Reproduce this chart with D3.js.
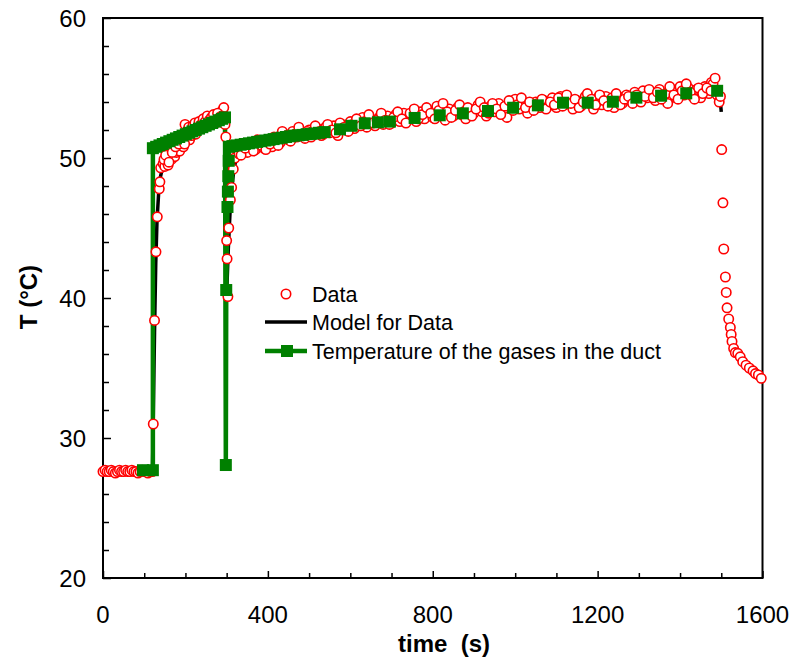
<!doctype html>
<html>
<head>
<meta charset="utf-8">
<title>T vs time</title>
<script src="https://d3js.org/d3.v7.min.js"></script>
<style>
  body { margin: 0; background: #fff; }
  svg text { font-family: Arial, "Liberation Sans", sans-serif; fill: #000; }
  .tick-label { font-size: 24px; }
  .axis-title { font-size: 24px; font-weight: bold; }
  .legend-text { font-size: 21.5px; }
</style>
</head>
<body>
<div id="chart"></div>
<script>

// measured data points [time (s), T (°C)]
const dataPts = [
  [0,27.6],[5,27.7],[10,27.6],[15,27.6],[20,27.7],[25,27.6],[30,27.5],[35,27.6],[40,27.7],[45,27.6],
  [50,27.6],[55,27.7],[60,27.6],[65,27.6],[70,27.7],[75,27.6],[80,27.6],[85,27.5],[90,27.6],[95,27.7],
  [100,27.6],[105,27.6],[109,27.5],[115,27.6],[120,27.6],
  [122,31.0],[125,38.4],[128.5,43.3],[131.7,45.8],[136.5,47.8],[138,48.3],[140,49.3],[146,49.6],
  [150,49.4],[154,49.8],[158,49.5],[162,50.0],[166,49.9],[170,50.3],[174,50.1],[178,50.4],[182,50.6],
  [186,50.5],[190,50.9],[195,50.8],[199,52.4],[205,51.5],[210,51.3],[215,51.6],[220,51.9],[225,51.7],
  [230,52.0],[235,52.2],[240,52.1],[245,52.4],[250,52.3],[255,52.6],[260,52.5],[265,52.8],[270,52.7],
  [275,53.0],[280,52.9],[285,52.6],[290,53.4],[293,53.6],[296,52.4],[298,51.5],
  [148,49.9],[152,50.2],[160,49.7],[168,50.4],[176,50.8],[184,51.0],[192,51.3],[198,51.0],[203,51.9],
  [208,52.2],[213,51.8],[218,52.3],[223,52.5],[228,52.2],[233,52.6],[238,52.4],[243,52.8],[248,52.6],
  [253,53.0],[258,52.7],[263,52.9],[268,53.1],[273,52.5],[278,53.2],[283,52.9],[288,53.0],
  [300,44.1],[301,42.8],[303,40.1],[305,45.0],[309,47.0],[312,47.9],[316,49.2],[320,50.0],[325,50.6],[330,50.3],
  [340,50.9],[350,50.4],[360,51.0],[370,50.6],[380,51.1],[390,50.7],[400,51.2],[410,50.8],[420,51.4],[430,51.1],
  [440,51.7],[450,51.3],[460,51.9],[470,51.5],[480,51.8],[490,51.4],[500,52.0],[510,51.7],[520,52.1],[530,51.6],
  [540,52.2],[550,51.8],[560,52.3],[570,51.6],[580,52.4],[590,52.0],[600,52.6],[610,52.1],[620,52.5],[630,52.9],
  [640,52.2],[650,52.8],[660,52.3],[670,52.9],[680,52.4],[690,53.0],[700,52.5],[710,53.1],[720,52.6],[730,53.2],
  [740,52.7],[750,53.0],[760,52.6],[770,53.3],[780,52.8],[790,53.4],[800,52.9],[810,53.7],[820,53.2],[830,52.7],
  [840,53.5],[850,53.0],[860,53.6],[870,53.1],[880,52.8],[890,53.5],[900,53.2],[910,53.8],[920,53.3],[930,53.0],
  [940,53.7],[950,53.3],[960,53.9],[970,53.4],[980,52.9],[990,53.8],[1000,54.2],[1010,53.5],[1020,53.9],[1030,53.2],
  [1040,53.8],[1050,54.0],[1060,53.6],[1070,54.1],[1080,53.7],[1090,54.3],[1100,53.6],[1110,54.4],[1120,53.8],[1130,54.2],
  [1140,53.5],[1150,54.1],[1160,53.7],[1170,54.4],[1180,53.9],[1190,53.5],[1200,54.3],[1210,53.8],[1220,54.4],[1230,54.0],
  [1240,53.6],[1250,54.4],[1260,53.9],[1270,54.5],[1280,54.1],[1290,54.7],[1300,54.2],[1310,54.8],[1320,54.3],[1330,54.6],
  [1340,54.1],[1350,54.9],[1360,54.4],[1370,53.9],[1380,54.8],[1390,54.3],[1400,55.1],[1410,54.5],[1420,55.0],[1430,54.4],
  [1440,54.9],[1450,54.3],[1460,55.1],[1470,54.6],[1476,55.4],[1480,55.3],[1485,55.7],[1490,54.5],[1495,54.0],[1498,54.4],
  [335,50.2],[345,50.7],[355,51.1],[365,50.5],[375,51.3],[385,50.9],[395,50.6],[405,51.0],[415,51.5],[425,50.9],
  [435,51.9],[445,51.6],[455,51.2],[465,51.7],[475,52.2],[485,51.6],[495,51.9],[505,51.5],[515,52.3],[525,51.9],
  [535,51.7],[545,52.4],[555,52.0],[565,51.8],[575,52.5],[585,52.2],[595,51.9],[605,52.4],[615,52.8],[625,52.3],
  [635,52.6],[645,53.1],[655,52.5],[665,52.7],[675,53.2],[685,52.7],[695,52.4],[705,52.9],[715,53.3],[725,52.8],
  [735,52.5],[745,53.2],[755,53.5],[765,52.8],[775,53.1],[785,53.6],[795,53.2],[805,52.8],[815,53.4],[825,53.9],
  [835,53.3],[845,52.9],[855,53.4],[865,53.8],[875,53.3],[885,53.6],[895,53.0],[905,53.5],[915,54.0],[925,53.6],
  [935,53.2],[945,53.9],[955,53.5],[965,53.1],[975,53.7],[985,54.1],[995,53.4],[1005,53.8],[1015,54.3],[1025,53.6],
  [1035,54.0],[1045,53.4],[1055,53.9],[1065,54.2],[1075,53.5],[1085,54.0],[1095,53.8],[1105,54.3],[1115,53.7],[1125,54.5],
  [1135,53.9],[1145,54.2],[1155,53.6],[1165,54.0],[1175,54.6],[1185,54.2],[1195,53.8],[1205,54.5],[1215,54.1],[1225,53.7],
  [1235,54.3],[1245,54.6],[1255,53.8],[1265,54.2],[1275,54.4],[1285,53.9],[1295,54.5],[1305,54.0],[1315,54.4],[1325,54.9],
  [1335,54.3],[1345,54.7],[1355,54.2],[1365,54.6],[1375,55.1],[1385,54.5],[1395,54.2],[1405,54.8],[1415,55.3],[1425,54.7],
  [1435,54.2],[1445,55.0],[1455,54.6],[1465,55.0],[1475,54.8],
  [1501,50.6],[1504,46.8],[1506,43.5],[1510,41.5],[1512,40.4],[1514,39.3],[1518,38.5],[1522,37.9],[1524,37.4],[1526,36.9],
  [1530,36.4],[1534,36.1],[1540,36.05],[1546,35.8],[1552,35.45],[1560,35.2],[1568,35.0],[1577,34.8],[1583,34.6],[1590,34.5],
  [1597,34.26]
];

// model curve
const modelPts = [
  [0,27.6],[120,27.6],[122,31.5],[125,37.5],[128,42.5],[131,45.5],[135,47.5],[139,48.6],[145,49.4],
  [155,49.9],[170,50.3],[200,51.0],[230,51.7],[260,52.3],[296,53.0],[300,40.3],[304,43.5],[308,46.0],
  [313,48.0],[318,49.3],[325,50.1],[340,50.6],[400,50.9],[500,51.6],[600,52.2],[700,52.7],[800,53.0],
  [900,53.3],[1000,53.6],[1100,53.9],[1200,54.05],[1300,54.3],[1400,54.6],[1495,54.9],[1500,53.3]
];

// temperature of the gases in the duct
const gasPts = [
  [97,27.7],[121,27.7],[121,50.7],[129,50.8],[137,50.9],[145,51.0],[153,51.1],[161,51.2],[169,51.3],
  [177,51.4],[185,51.5],[193,51.6],[201,51.7],[209,51.8],[217,51.9],[225,52.0],[233,52.1],[241,52.2],
  [249,52.3],[257,52.4],[265,52.5],[273,52.6],[281,52.7],[289,52.8],[296,52.9],
  [298,28.07],[299,40.57],[302,46.5],[303,47.6],[304,48.7],[305,49.8],[306,50.8],
  [314,50.85],[324,50.9],[334,50.95],[344,51.0],[354,51.05],[364,51.1],[374,51.15],[384,51.2],[394,51.25],
  [404,51.3],[414,51.35],[424,51.4],[434,51.45],[444,51.5],[454,51.55],[464,51.6],[474,51.62],[484,51.65],
  [494,51.7],[504,51.72],[514,51.75],[524,51.8],[538,51.85],
  [575,52.05],[603,52.3],[635,52.48],[667,52.55],[696,52.6],[756,52.86],[817,53.05],[873,53.19],
  [934,53.36],[995,53.59],[1055,53.76],[1116,53.95],[1176,53.95],[1237,54.02],[1294,54.31],[1354,54.45],
  [1415,54.62],[1490,54.8]
];

const xMajor = [0, 400, 800, 1200, 1600];
const yMajor = [20, 30, 40, 50, 60];

const legendItems = ["Data", "Model for Data", "Temperature of the gases in the duct"];

const W = 792, H = 661;
const margin = { top: 18, right: 29.5, bottom: 83, left: 103 };

const svg = d3.select("#chart").append("svg")
  .attr("width", W).attr("height", H);

const x = d3.scaleLinear().domain([0, 1600]).range([margin.left, W - margin.right]);
const y = d3.scaleLinear().domain([20, 60]).range([H - margin.bottom, margin.top]);

// axes (ticks inward)
const xAxis = svg.append("g")
  .attr("transform", "translate(0," + y(20) + ")")
  .call(d3.axisTop(x).tickValues(d3.range(0, 1601, 100)).tickSize(6).tickFormat(""));
xAxis.selectAll(".tick line")
  .attr("y2", d => (d % 400 === 0 ? -7 : -5))
  .attr("stroke-width", 1.5);
xAxis.select(".domain").remove();

const yAxis = svg.append("g")
  .attr("transform", "translate(" + x(0) + ",0)")
  .call(d3.axisRight(y).tickValues(d3.range(20, 61, 2)).tickSize(6).tickFormat(""));
yAxis.selectAll(".tick line")
  .attr("x2", d => (d % 10 === 0 ? 8 : 6))
  .attr("stroke-width", 1.5);
yAxis.select(".domain").remove();

// frame
svg.append("rect")
  .attr("x", x(0)).attr("y", y(60))
  .attr("width", x(1600) - x(0)).attr("height", y(20) - y(60))
  .attr("fill", "none").attr("stroke", "#000").attr("stroke-width", 2);

svg.selectAll(".xlab").data(xMajor).enter().append("text")
  .attr("class", "tick-label")
  .attr("x", d => x(d)).attr("y", y(20) + 45)
  .attr("text-anchor", "middle")
  .text(d => d);

svg.selectAll(".ylab").data(yMajor).enter().append("text")
  .attr("class", "tick-label")
  .attr("x", x(0) - 17).attr("y", d => y(d) + 9)
  .attr("text-anchor", "end")
  .text(d => d);

svg.append("text")
  .attr("class", "axis-title")
  .attr("x", 444).attr("y", 652)
  .attr("text-anchor", "middle")
  .attr("xml:space", "preserve")
  .style("white-space", "pre")
  .text("time  (s)");

svg.append("text")
  .attr("class", "axis-title")
  .attr("transform", "translate(37,297) rotate(-90)")
  .attr("text-anchor", "middle")
  .text("T (°C)");

const line = d3.line().x(d => x(d[0])).y(d => y(d[1]));

// lines first
svg.append("path").datum(modelPts)
  .attr("d", line).attr("fill", "none")
  .attr("stroke", "#000").attr("stroke-width", 3.5);

svg.append("path").datum(gasPts)
  .attr("d", line).attr("fill", "none")
  .attr("stroke", "#008000").attr("stroke-width", 4.5);

// markers
svg.append("g").selectAll("circle").data(dataPts).enter().append("circle")
  .attr("cx", d => x(d[0])).attr("cy", d => y(d[1]))
  .attr("r", 4.7)
  .attr("fill", "#fff").attr("stroke", "#ff0000").attr("stroke-width", 1.6);

const sq = 12;
svg.append("g").selectAll("rect").data(gasPts).enter().append("rect")
  .attr("x", d => x(d[0]) - sq / 2).attr("y", d => y(d[1]) - sq / 2)
  .attr("width", sq).attr("height", sq)
  .attr("fill", "#008000");

// legend
const lg = svg.append("g");
const rowY = [294, 322, 351];
lg.append("circle").attr("cx", 286).attr("cy", rowY[0]).attr("r", 4.7)
  .attr("fill", "#fff").attr("stroke", "#ff0000").attr("stroke-width", 1.6);
lg.append("line").attr("x1", 265).attr("x2", 307).attr("y1", rowY[1]).attr("y2", rowY[1])
  .attr("stroke", "#000").attr("stroke-width", 3.5);
lg.append("line").attr("x1", 265).attr("x2", 307).attr("y1", rowY[2]).attr("y2", rowY[2])
  .attr("stroke", "#008000").attr("stroke-width", 4.5);
lg.append("rect").attr("x", 287 - sq / 2).attr("y", rowY[2] - sq / 2)
  .attr("width", sq).attr("height", sq).attr("fill", "#008000");
lg.selectAll("text").data(legendItems).enter().append("text")
  .attr("class", "legend-text")
  .attr("x", 312).attr("y", (d, i) => rowY[i] + 7.5)
  .text(d => d);

</script>
</body>
</html>
